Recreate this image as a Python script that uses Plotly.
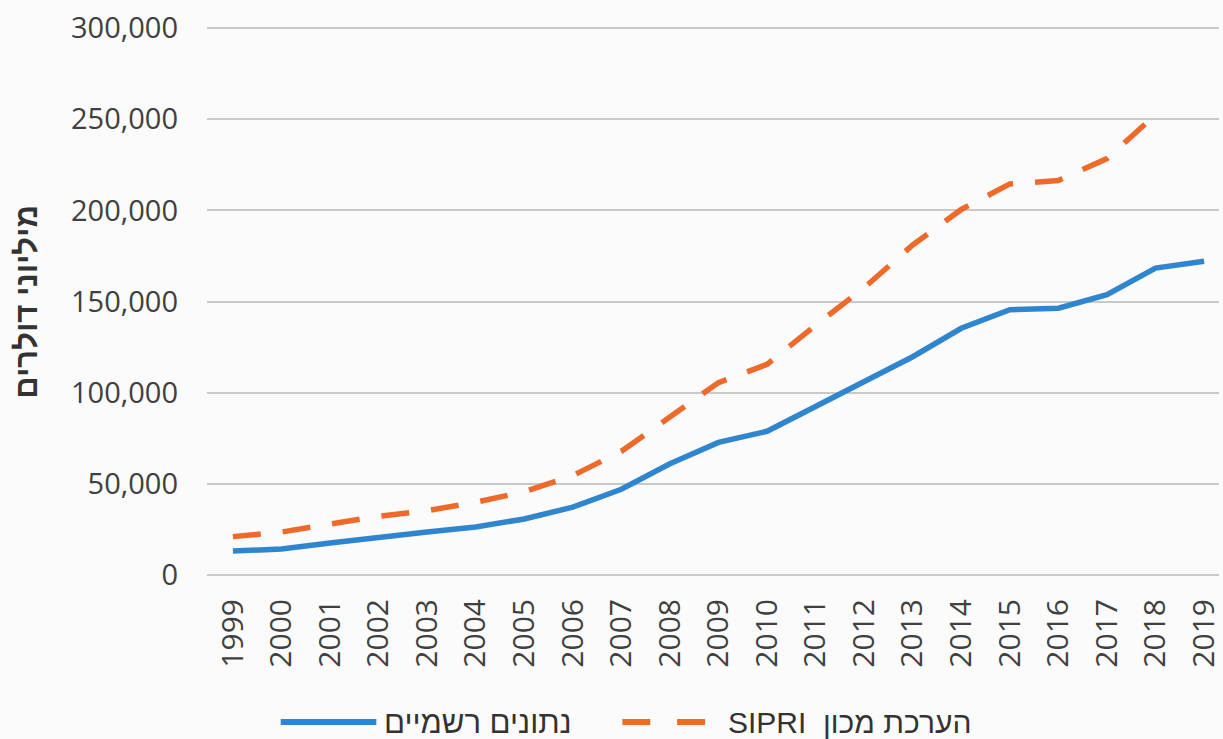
import plotly.graph_objects as go

years = list(range(1999, 2020))
official = [13100, 14200, 17500, 20800, 23500, 26300, 30700, 37200, 47000, 61000,
            72700, 78800, 92500, 106000, 119700, 135300, 145500, 146300, 153800, 168300, 172100]
sipri = [21000, 23500, 27900, 32200, 35200, 39900, 45600, 54500, 67800, 86900,
         105500, 115500, 137000, 157500, 181000, 200500, 214500, 216400, 228400, 252500, None]
y_ticks = [0, 50000, 100000, 150000, 200000, 250000, 300000]
y_tick_text = ["0", "50,000", "100,000", "150,000", "200,000", "250,000", "300,000"]
name_official = "נתונים רשמיים"
name_sipri = "SIPRI\u00a0\u00a0הערכת מכון"
y_title = "מיליוני דולרים"

BLUE = "#2F86CF"
ORANGE = "#EE6A2A"
W, H = 1223, 739
L, R, T, B = 207, 0, 27, 163
pw, ph = W - L - R, H - T - B

def px_x(p):
    return (p - L) / pw

def px_y(p):
    return (H - B - p) / ph

fig = go.Figure()
fig.add_trace(go.Scatter(x=years, y=official, mode="lines", name=name_official,
                         line=dict(color=BLUE, width=5.5), showlegend=False))
fig.add_trace(go.Scatter(x=years, y=sipri, mode="lines", name=name_sipri,
                         line=dict(color=ORANGE, width=5.5, dash="28px,22px"), showlegend=False))

# manual legend
ly = px_y(722)
fig.add_shape(type="line", xref="paper", yref="paper", x0=px_x(281), x1=px_x(377), y0=ly, y1=ly,
              line=dict(color=BLUE, width=6))
fig.add_shape(type="line", xref="paper", yref="paper", x0=px_x(624), x1=px_x(652), y0=ly, y1=ly,
              line=dict(color=ORANGE, width=6))
fig.add_shape(type="line", xref="paper", yref="paper", x0=px_x(679), x1=px_x(707), y0=ly, y1=ly,
              line=dict(color=ORANGE, width=6))
fig.add_annotation(xref="paper", yref="paper", x=px_x(383), y=ly, xanchor="left", yanchor="middle",
                   text=name_official, showarrow=False,
                   font=dict(family="Liberation Sans", size=31, color="#333333"))
fig.add_annotation(xref="paper", yref="paper", x=px_x(728), y=ly, xanchor="left", yanchor="middle",
                   text=name_sipri, showarrow=False,
                   font=dict(family="Liberation Sans", size=30, color="#333333"))
fig.add_annotation(xref="paper", yref="paper", x=px_x(25), y=px_y(302), xanchor="center", yanchor="middle",
                   text="<b>" + y_title + "</b>", textangle=-90, showarrow=False,
                   font=dict(family="Liberation Sans", size=31, color="#333333"))

fig.update_layout(
    width=W, height=H,
    margin=dict(l=L, r=R, t=T, b=B, pad=0),
    paper_bgcolor="#fbfbfb", plot_bgcolor="#fbfbfb",
    font=dict(family="Open Sans", size=29, color="#404040"),
)
fig.update_xaxes(
    range=[1999 - 26 / 48.75, 2019 + 15 / 48.75],
    tickmode="array", tickvals=years, ticktext=[str(y) for y in years],
    tickangle=-90, showgrid=False, zeroline=False, showline=False,
    ticks="", ticklabelstandoff=16, ticklabeloverflow="allow",
    tickfont=dict(family="Open Sans", size=30, color="#404040"),
)
fig.update_yaxes(
    range=[-600, 300600],
    tickmode="array", tickvals=y_ticks, ticktext=y_tick_text,
    showgrid=True, gridcolor="#c9c9c9", gridwidth=1.5,
    zeroline=False, showline=False, ticks="", ticklabelstandoff=28,
    tickfont=dict(family="Open Sans", size=29, color="#404040"),
)

fig.write_html(
    "out.html",
    config={"displayModeBar": False},
    post_script="document.body.style.margin='0';document.body.style.overflow='hidden';"
                "document.documentElement.style.overflow='hidden';",
)
